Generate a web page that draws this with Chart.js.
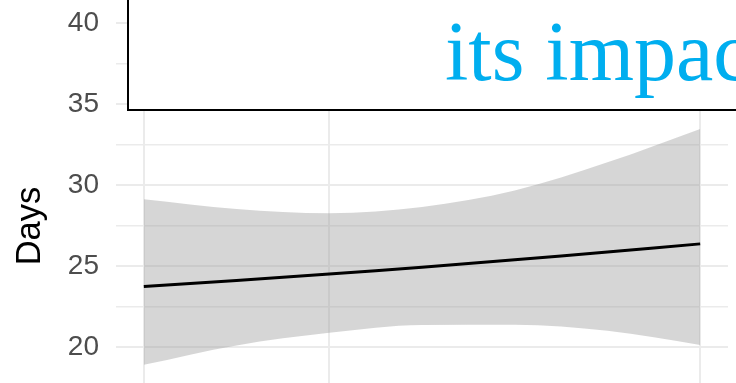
<!DOCTYPE html>
<html>
<head>
<meta charset="utf-8">
<script src="https://cdn.jsdelivr.net/npm/chart.js@4.4.0/dist/chart.umd.min.js"></script>
<style>
  html, body { margin: 0; padding: 0; overflow: hidden; background: #fff; }
  #wrap { position: relative; width: 736px; height: 452px; }
  #note {
    position: absolute; left: 127px; top: -10px; width: 800px; height: 121px;
    box-sizing: border-box; border: 2px solid #000; background: #fff;
  }
  #note span {
    position: absolute; left: 316px; top: 18px;
    font: 84px "Liberation Serif", serif; line-height: 1;
    color: #00aeef; white-space: nowrap;
  }
</style>
</head>
<body>
<div id="wrap">
  <canvas id="chart"></canvas>
  <div id="note"><span>its impact</span></div>
</div>
<script>
// smoothed trend with its confidence band
const xValues = [0, 0.5, 1, 1.5, 2, 2.5, 3];
const fitDays = [23.73, 24.11, 24.50, 24.93, 25.39, 25.87, 26.37];
const upperDays = [29.13, 28.53, 28.26, 28.65, 29.67, 31.41, 33.48];
const lowerDays = [18.89, 20.09, 20.87, 21.36, 21.37, 20.99, 20.12];

const xBreaks = [0, 1, 3];
const yBreaks = [15, 17.5, 20, 22.5, 25, 27.5, 30, 32.5, 35, 37.5, 40];
const yMin = 13.5;
const yMax = 41.45;

const sans = '"Liberation Sans", Arial, sans-serif';
const pts = (ys) => xValues.map((x, i) => ({ x: x, y: ys[i] }));

new Chart(document.getElementById("chart"), {
  type: "line",
  data: {
    datasets: [
      {
        label: "fit",
        data: pts(fitDays),
        borderColor: "#000",
        borderWidth: 3,
        pointRadius: 0,
        fill: false,
        tension: 0.4,
        order: 0,
      },
      {
        label: "upper",
        data: pts(upperDays),
        borderColor: "rgba(0,0,0,0)",
        borderWidth: 0,
        pointRadius: 0,
        backgroundColor: "rgba(153,153,153,0.4)",
        fill: "+1",
        cubicInterpolationMode: "monotone",
        order: 1,
      },
      {
        label: "lower",
        data: pts(lowerDays),
        borderColor: "rgba(0,0,0,0)",
        borderWidth: 0,
        pointRadius: 0,
        fill: false,
        cubicInterpolationMode: "monotone",
        order: 2,
      },
    ],
  },
  options: {
    responsive: true,
    maintainAspectRatio: false,
    animation: false,
    layout: { padding: { left: 0, right: 8, top: 0, bottom: 0 } },
    plugins: { legend: { display: false }, tooltip: { enabled: false } },
    scales: {
      x: {
        type: "linear",
        min: -0.15,
        max: 3.15,
        afterBuildTicks: (s) => { s.ticks = xBreaks.map((v) => ({ value: v })); },
        afterFit: (s) => { s.height = 0; s.paddingLeft = 0; s.paddingRight = 0; },
        ticks: { display: false },
        grid: { color: "#ebebeb", lineWidth: 2, drawTicks: false },
        border: { display: false },
      },
      y: {
        min: yMin,
        max: yMax,
        afterBuildTicks: (s) => { s.ticks = yBreaks.map((v) => ({ value: v })); },
        afterFit: (s) => { s.width = 116; s.paddingTop = 0; s.paddingBottom = 0; },
        ticks: {
          autoSkip: false,
          padding: 17,
          color: "#4d4d4d",
          font: { family: sans, size: 28 },
          callback: (v) => (v % 5 === 0 ? v : ""),
        },
        grid: {
          color: "#ebebeb",
          lineWidth: (c) => (c.tick && c.tick.value % 5 === 0 ? 2 : 1.4),
          drawTicks: false,
        },
        border: { display: false },
        title: {
          display: true,
          text: "Days",
          color: "#000",
          font: { family: sans, size: 34.5 },
          padding: { top: 10, bottom: 0 },
        },
      },
    },
  },
});
</script>
</body>
</html>
